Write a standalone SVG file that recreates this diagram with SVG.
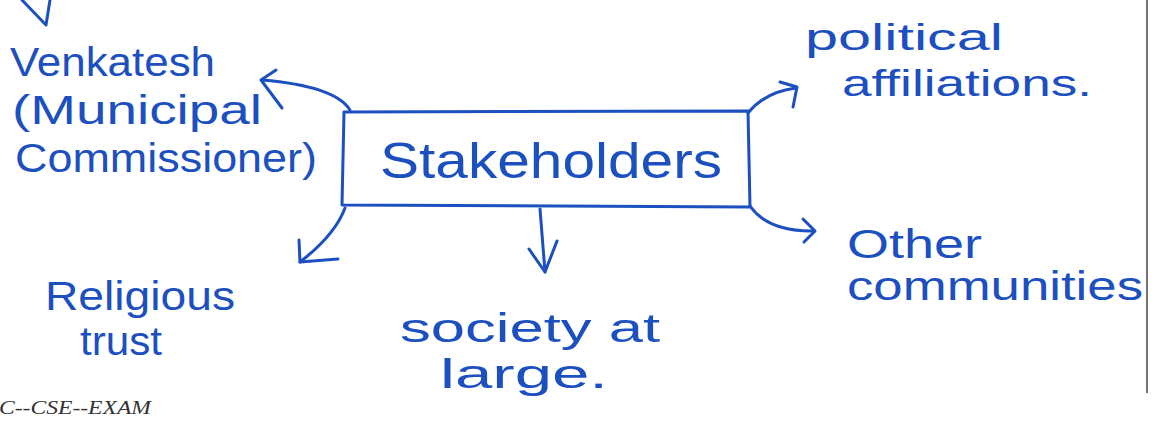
<svg xmlns="http://www.w3.org/2000/svg" width="1158" height="421" viewBox="0 0 1158 421">
<style>
.ink{fill:none;stroke:#1c4fbf;stroke-width:3;stroke-linecap:round;stroke-linejoin:round}
.hw{font-family:"Liberation Sans","DejaVu Sans",sans-serif;fill:#1c4fbf;font-size:40px}
.big{font-size:50px}
.sm{font-size:36px}
.foot{font-family:"Liberation Serif","Times New Roman",serif;font-style:italic;font-size:19px;fill:#333}
</style>
<rect width="1158" height="421" fill="#fff"/>
<line x1="1147" y1="0" x2="1147" y2="393" stroke="#444" stroke-width="1.5"/>
<g id="connectors" class="ink">
  <path d="M22 0 L46 25 L50 0"/>
  <path d="M350 110 Q335 86 262 80"/>
  <path d="M276 70 L261 80 L282 108"/>
  <path d="M748 113 Q765 92 796 88"/>
  <path d="M780 82 L797 87 L793 107"/>
  <path d="M750 206 Q768 232 814 231"/>
  <path d="M803 219 L815 231 L804 242"/>
  <path d="M345 208 Q335 235 300 262"/>
  <path d="M299 240 L300 262 L338 259"/>
  <path d="M540 209 L545 272"/>
  <path d="M529 249 L545 272 L557 241"/>
</g>
<g id="node-stakeholders">
  <path class="ink" d="M344 112 L748 111 L750 207 L342 205 Z"/>
  <text class="hw big" x="380" y="178" textLength="342" lengthAdjust="spacingAndGlyphs">Stakeholders</text>
</g>
<g id="node-venkatesh" class="hw">
  <text x="10" y="76" textLength="205" lengthAdjust="spacingAndGlyphs">Venkatesh</text>
  <text x="12" y="124" textLength="250" lengthAdjust="spacingAndGlyphs">(Municipal</text>
  <text x="15" y="172" textLength="302" lengthAdjust="spacingAndGlyphs">Commissioner)</text>
</g>
<g id="node-political" class="hw sm">
  <text x="805" y="50" textLength="198" lengthAdjust="spacingAndGlyphs">political</text>
  <text x="842" y="96" textLength="250" lengthAdjust="spacingAndGlyphs">affiliations.</text>
</g>
<g id="node-other" class="hw">
  <text x="847" y="258" textLength="135" lengthAdjust="spacingAndGlyphs">Other</text>
  <text x="847" y="300" textLength="296" lengthAdjust="spacingAndGlyphs">communities</text>
</g>
<g id="node-religious" class="hw">
  <text x="45" y="310" textLength="190" lengthAdjust="spacingAndGlyphs">Religious</text>
  <text x="80" y="355" textLength="82" lengthAdjust="spacingAndGlyphs">trust</text>
</g>
<g id="node-society" class="hw">
  <text x="400" y="342" textLength="260" lengthAdjust="spacingAndGlyphs">society at</text>
  <text x="440" y="388" textLength="168" lengthAdjust="spacingAndGlyphs">large.</text>
</g>
<text class="foot" x="-1" y="414" textLength="152" lengthAdjust="spacingAndGlyphs">C--CSE--EXAM</text>
</svg>
